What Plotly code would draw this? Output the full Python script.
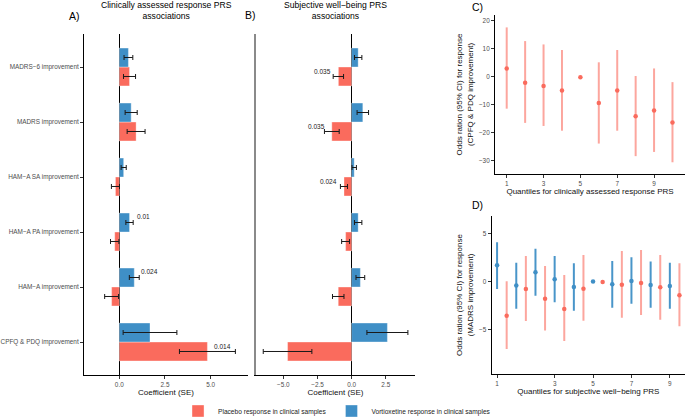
import plotly.graph_objects as go

# ---------------- data ----------------
outcomes = ["CPFQ & PDQ improvement", "HAM−A improvement", "HAM−A PA improvement",
            "HAM−A SA improvement", "MADRS improvement", "MADRS−6 improvement"]

# Panel A: clinically assessed response PRS associations
a_placebo = [4.82, -0.42, -0.25, -0.21, 0.92, 0.56]
a_placebo_se = [1.53, 0.38, 0.23, 0.22, 0.49, 0.33]
a_vort = [1.68, 0.82, 0.56, 0.24, 0.65, 0.50]
a_vort_se = [1.47, 0.27, 0.20, 0.14, 0.33, 0.24]

# Panel B: subjective well-being PRS associations
b_placebo = [-4.69, -0.98, -0.44, -0.56, -1.45, -0.97]
b_placebo_se = [1.78, 0.42, 0.29, 0.26, 0.54, 0.38]
b_vort = [2.62, 0.64, 0.48, 0.19, 0.82, 0.48]
b_vort_se = [1.50, 0.32, 0.27, 0.16, 0.42, 0.27]

# p-value labels: (panel, outcome, series, text)
p_labels = [
    ("A", "HAM−A PA improvement", "vort", "0.01"),
    ("A", "HAM−A improvement", "vort", "0.024"),
    ("A", "CPFQ & PDQ improvement", "placebo", "0.014"),
    ("B", "MADRS−6 improvement", "placebo", "0.035"),
    ("B", "MADRS improvement", "placebo", "0.035"),
    ("B", "HAM−A SA improvement", "placebo", "0.024"),
]

# Panel C: quantiles of clinically assessed response PRS (placebo, CPFQ & PDQ)
c_quantiles = [1, 2, 3, 4, 5, 6, 7, 8, 9, 10]
c_or = [2.9, -2.2, -3.4, -5.0, -0.25, -9.5, -5.0, -14.2, -12.2, -16.5]
c_lo = [-11.5, -16.6, -17.7, -19.4, -0.25, -24.0, -19.4, -28.5, -27.0, -30.7]
c_hi = [17.6, 12.7, 11.5, 9.5, -0.25, 5.1, 9.5, 0.2, 2.9, -2.0]
c_tickvals = [1, 3, 5, 7, 9]

# Panel D: quantiles of subjective well-being PRS (MADRS)
d_quantiles = [1, 2, 3, 4, 5, 6, 7, 8, 9, 10]
d_vort = [1.67, -0.45, 0.93, 0.20, -0.60, -0.03, -0.31, 0.03, -0.38, -0.49]
d_vort_lo = [-0.80, -2.85, -1.50, -2.19, -3.06, -0.03, -2.75, -2.33, -2.75, -2.85]
d_vort_hi = [4.06, 1.94, 3.40, 2.63, 1.87, -0.03, 2.11, 2.50, 2.05, 1.94]
d_plac = [-3.58, -0.80, -1.81, -2.88, -0.77, -0.07, -0.35, -0.18, -0.63, -1.46]
d_plac_lo = [-7.05, -4.13, -5.14, -6.22, -4.10, -0.07, -3.79, -3.51, -4.00, -4.69]
d_plac_hi = [0.00, 2.63, 1.60, 0.66, 2.74, -0.07, 3.16, 3.26, 2.74, 1.87]
d_tickvals = [1, 4, 6, 8, 10]
d_ticktext = ["1", "3", "5", "7", "9"]

# ---------------- styles ----------------
RED = "#FA6B5D"
BLUE = "#3F8FC6"
RED_CI = "rgba(250,107,93,0.6)"
BLUE_CI = "rgba(63,143,198,0.95)"
FONT = "Liberation Sans, Arial, sans-serif"
TICKC = "#4D4D4D"
W, H = 685, 417
DODGE = 0.5

fig = go.Figure()

def bar_err(se):
    return dict(type="data", array=se, color="#1a1a1a", thickness=1, width=2.5)

for xa, ya, plac, plac_se, vort, vort_se, legend in [
        ("x", "y", a_placebo, a_placebo_se, a_vort, a_vort_se, True),
        ("x2", "y2", b_placebo, b_placebo_se, b_vort, b_vort_se, False)]:
    fig.add_trace(go.Bar(
        y=outcomes, x=plac, orientation="h", name="Placebo response in clinical samples",
        marker=dict(color=RED, line=dict(color="rgba(255,255,255,0.45)", width=0.8)),
        error_x=bar_err(plac_se), xaxis=xa, yaxis=ya, showlegend=legend,
        legendgroup="p"))
    fig.add_trace(go.Bar(
        y=outcomes, x=vort, orientation="h", name="Vortioxetine response in clinical samples",
        marker=dict(color=BLUE, line=dict(color="rgba(255,255,255,0.45)", width=0.8)),
        error_x=bar_err(vort_se), xaxis=xa, yaxis=ya, showlegend=legend,
        legendgroup="v"))

def ci(pt, lo, hi, color):
    return dict(type="data", symmetric=False,
                array=[h - p for p, h in zip(pt, hi)],
                arrayminus=[p - l for p, l in zip(pt, lo)],
                width=0, thickness=2, color=color)

fig.add_trace(go.Scatter(
    x=c_quantiles, y=c_or, mode="markers", marker=dict(color=RED, size=4.5),
    error_y=ci(c_or, c_lo, c_hi, RED_CI), xaxis="x3", yaxis="y3", showlegend=False))

fig.add_trace(go.Scatter(
    x=d_quantiles, y=d_vort, mode="markers", marker=dict(color=BLUE, size=4.5),
    error_y=ci(d_vort, d_vort_lo, d_vort_hi, BLUE_CI), xaxis="x4", yaxis="y4",
    showlegend=False))
fig.add_trace(go.Scatter(
    x=[q + DODGE for q in d_quantiles], y=d_plac, mode="markers",
    marker=dict(color=RED, size=4.5),
    error_y=ci(d_plac, d_plac_lo, d_plac_hi, RED_CI), xaxis="x4", yaxis="y4",
    showlegend=False))

# ---------------- annotations ----------------
ann = []
vals = {("A", "placebo"): a_placebo, ("A", "vort"): a_vort,
        ("B", "placebo"): b_placebo, ("B", "vort"): b_vort}
for panel, outc, series, txt in p_labels:
    v = vals[(panel, series)][outcomes.index(outc)]
    ann.append(dict(
        x=v, y=outc, xref="x" if panel == "A" else "x2", yref="y" if panel == "A" else "y2",
        text=txt, showarrow=False, font=dict(size=6.5, color="#222", family=FONT),
        xanchor="left" if v > 0 else "right", xshift=5 if v > 0 else -5,
        yshift=16 if series == "vort" else -4, yanchor="middle"))

def paper_text(xpx, ypx, text, size, anchor="center"):
    ann.append(dict(x=xpx / W, y=1 - ypx / H, xref="paper", yref="paper", text=text,
                    showarrow=False, font=dict(size=size, color="black", family=FONT,
                                               weight="normal"),
                    xanchor=anchor, yanchor="middle"))

paper_text(166, 10.5, "Clinically assessed response PRS<br>associations", 8.6)
paper_text(335, 10.5, "Subjective well−being PRS<br>associations", 8.6)
paper_text(74, 16, "A)", 10.5)
paper_text(250, 15, "B)", 10.5)
paper_text(478, 7, "C)", 10.5)
paper_text(477, 205, "D)", 10.5)

fig.update_layout(annotations=ann)

# ---------------- axes ----------------
tickfont = dict(size=6.4, color=TICKC, family=FONT)
titlefont = dict(size=8, color="#111", family=FONT, weight="normal")
base = dict(showgrid=False, showline=True, linecolor="black", linewidth=1,
            ticks="outside", ticklen=3, tickcolor="#333", tickwidth=0.8,
            tickfont=tickfont, zeroline=False, automargin=False)

ydom_ab = [1 - 375 / H, 1 - 34 / H]
fig.update_layout(
    xaxis=dict(base, domain=[84 / W, 248 / W], range=[-1.93, 7.04], tick0=0, dtick=2.5,
               tickformat=".1f", zeroline=True, zerolinecolor="black", zerolinewidth=1,
               title=dict(text="Coefficient (SE)", font=titlefont, standoff=2), anchor="y"),
    yaxis=dict(base, domain=ydom_ab, type="category", categoryorder="array",
               categoryarray=outcomes, range=[-0.6, 5.6], anchor="x"),
    xaxis2=dict(base, domain=[256 / W, 415 / W], range=[-7.0, 4.64], tick0=0, dtick=2.5,
                tickformat=".1f", zeroline=True, zerolinecolor="black", zerolinewidth=1,
                title=dict(text="Coefficient (SE)", font=titlefont, standoff=2), anchor="y2"),
    yaxis2=dict(base, domain=ydom_ab, type="category", categoryorder="array",
                categoryarray=outcomes, range=[-0.6, 5.6], showticklabels=False, ticks="",
                linecolor="#8a8a8a", linewidth=1.5, anchor="x2"),
    xaxis3=dict(base, domain=[495 / W, 1.0], range=[0.364, 10.68], tickvals=c_tickvals,
                title=dict(text="Quantiles for clinically assessed response PRS",
                           font=titlefont, standoff=1), anchor="y3"),
    yaxis3=dict(base, domain=[1 - 174 / H, 1 - 15 / H], range=[-34.9, 22.04], dtick=10,
                title=dict(text="Odds ration (95% CI) for response<br>(CPFQ & PDQ improvement)",
                           font=titlefont, standoff=4), anchor="x3"),
    xaxis4=dict(base, domain=[491.7 / W, 1.0], range=[0.72, 10.79], tickvals=d_tickvals,
                ticktext=d_ticktext,
                title=dict(text="Quantiles for subjective well−being PRS",
                           font=titlefont, standoff=1), anchor="y4"),
    yaxis4=dict(base, domain=[1 - 374.3 / H, 1 - 215.7 / H], range=[-9.69, 6.83], dtick=5,
                title=dict(text="Odds ration (95% CI) for response<br>(MADRS improvement)",
                           font=titlefont, standoff=4), anchor="x4"),
)

fig.update_layout(
    width=W, height=H, margin=dict(l=0, r=0, t=0, b=0, autoexpand=False),
    paper_bgcolor="white", plot_bgcolor="white",
    barmode="group", bargap=0.31, bargroupgap=0,
    font=dict(family=FONT),
    legend=dict(orientation="h", x=0.492, xanchor="center", y=1 - 411 / H, yanchor="middle",
                font=dict(size=6.6, color="#222", family=FONT), traceorder="normal",
                itemwidth=30, bgcolor="rgba(0,0,0,0)"),
)

fig.write_html("out.html", config={"displayModeBar": False},
               post_script="document.body.style.margin='0';document.body.style.padding='0';")
